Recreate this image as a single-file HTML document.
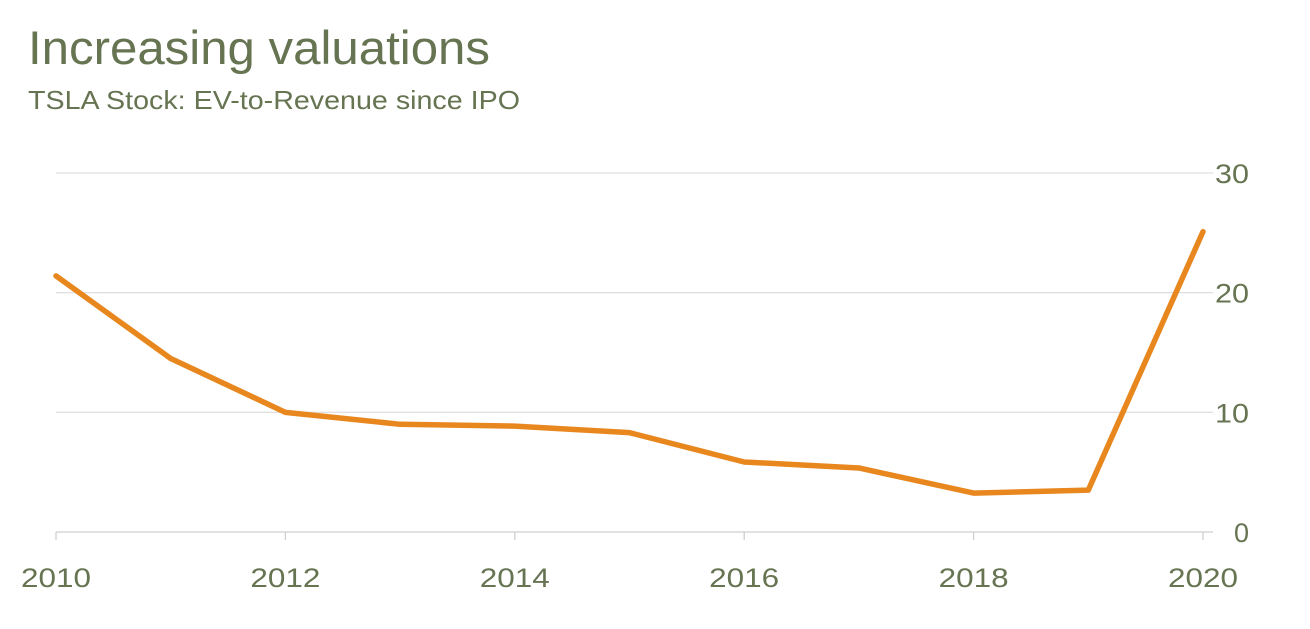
<!DOCTYPE html>
<html><head><meta charset="utf-8">
<style>
html,body{margin:0;padding:0;background:#fff;width:1310px;height:629px;overflow:hidden}
svg{display:block;font-family:"Liberation Sans",sans-serif}
</style></head>
<body>
<svg id="chart" width="1310" height="629">
<text x="28" y="64" font-size="47" fill="#667452" textLength="462" lengthAdjust="spacingAndGlyphs">Increasing valuations</text>
<text x="28" y="109" font-size="26" fill="#667452" textLength="492" lengthAdjust="spacingAndGlyphs">TSLA Stock: EV-to-Revenue since IPO</text>
<g id="grid"></g><g id="xaxis"></g><g id="yaxis"></g><g id="series"></g>
</svg>
<script>
const years=[2010,2011,2012,2013,2014,2015,2016,2017,2018,2019,2020];
const evRevenue=[21.4,14.5,10.0,9.0,8.85,8.3,5.85,5.35,3.25,3.5,25.1];
const yTicks=[0,10,20,30];
const xTicks=[2010,2012,2014,2016,2018,2020];
const NS="http://www.w3.org/2000/svg";
const x=v=>56+(v-2010)*(1203-56)/10;
const y=v=>532-v*(532-173)/30;
function mk(tag,attrs,parent){const e=document.createElementNS(NS,tag);for(const k in attrs)e.setAttribute(k,attrs[k]);parent.appendChild(e);return e;}
const grid=document.getElementById('grid'),xa=document.getElementById('xaxis'),ya=document.getElementById('yaxis'),se=document.getElementById('series');
yTicks.forEach(t=>{
  const l=mk('line',{x1:56,x2:1213,y1:y(t),y2:y(t),stroke:t===0?'#cfcfcf':'#e0e0e0','stroke-width':1.3},grid);
  
  
  const attrs={x:1249,y:y(t)+10,'font-size':27,fill:'#667452','text-anchor':'end'};
  if(String(t).length>1){attrs.textLength=34;attrs.lengthAdjust='spacingAndGlyphs';}
  const tx=mk('text',attrs,ya);
  tx.textContent=t;
  
  
});
xTicks.forEach(t=>{
  const l=mk('line',{x1:x(t),x2:x(t),y1:532,y2:540,stroke:'#cfcfcf','stroke-width':1.3},xa);
  
  
  const tx=mk('text',{x:x(t)-35,y:587,'font-size':27,fill:'#667452',textLength:70,lengthAdjust:'spacingAndGlyphs'},xa);
  tx.textContent=t;
  
  
});
const p=mk('polyline',{points:years.map((yr,i)=>x(yr)+','+y(evRevenue[i])).join(' '),fill:'none',stroke:'#e8871e','stroke-width':5.5,'stroke-linejoin':'round','stroke-linecap':'round'},se);


</script>
</body></html>
